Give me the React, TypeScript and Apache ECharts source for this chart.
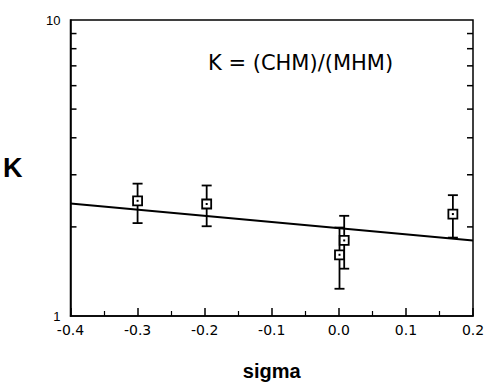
import React, { useEffect, useRef } from "react";
import * as echarts from "echarts";

// sigma values of the measured points
const sigmaValues = [-0.3, -0.197, 0.001, 0.008, 0.17];
// K values (centre of each marker)
const kValues = [2.45, 2.39, 1.61, 1.8, 2.21];
// error bar lower / upper ends
const kLow = [2.06, 2.01, 1.236, 1.445, 1.84];
const kHigh = [2.8, 2.76, 1.99, 2.18, 2.56];
// fitted line end points
const fitSigma = [-0.4, 0.2];
const fitK = [2.4, 1.8];
// minor log ticks on the K axis
const minorLogTicks = [2, 3, 4, 5, 6, 7, 8, 9];

const X_MIN = -0.4;
const X_MAX = 0.2;

export default function App() {
  const ref = useRef<HTMLDivElement>(null);
  useEffect(() => {
    if (!ref.current) return;
    const chart = echarts.init(ref.current, null, { renderer: "svg" });
    const points = sigmaValues.map((s, i) => [s, kValues[i]]);
    const bars = sigmaValues.map((s, i) => [s, kLow[i], kHigh[i]]);
    const fit = fitSigma.map((s, i) => [s, fitK[i]]);
    const ticks = minorLogTicks.map((v) => [X_MIN, v]);
    chart.setOption({
      animation: false,
      backgroundColor: "#fff",
      grid: {
        left: 70,
        right: 16,
        top: 20,
        bottom: 66,
        show: true,
        borderColor: "#000",
        borderWidth: 1.5,
        backgroundColor: "transparent",
      },
      xAxis: {
        type: "value",
        min: X_MIN,
        max: X_MAX,
        interval: 0.1,
        name: "sigma",
        nameLocation: "middle",
        nameGap: 45,
        nameTextStyle: {
          fontFamily: "Liberation Sans",
          fontWeight: "bold",
          fontSize: 20,
          color: "#000",
        },
        axisLine: { show: true, onZero: false, lineStyle: { color: "#000", width: 1.5 } },
        axisTick: { show: true, inside: true, length: 8, lineStyle: { color: "#000", width: 1.5 } },
        minorTick: { show: true, splitNumber: 2, length: 5, lineStyle: { color: "#000", width: 1.2 } },
        splitLine: { show: false },
        axisLabel: {
          formatter: (v: number) => v.toFixed(1),
          fontFamily: "DejaVu Sans",
          fontSize: 14,
          color: "#000",
          margin: 7,
        },
      },
      yAxis: {
        type: "log",
        logBase: 10,
        min: 1,
        max: 10,
        name: "K",
        nameLocation: "middle",
        nameRotate: 0,
        nameGap: 48,
        nameTextStyle: {
          fontFamily: "Liberation Sans",
          fontWeight: "bold",
          fontSize: 27,
          color: "#000",
        },
        axisLine: { show: true, onZero: false, lineStyle: { color: "#000", width: 1.5 } },
        axisTick: { show: false },
        splitLine: { show: false },
        axisLabel: {
          fontFamily: "Liberation Sans",
          fontSize: 13,
          color: "#000",
          margin: 10,
        },
      },
      graphic: [
        {
          type: "text",
          left: 208,
          top: 52,
          style: {
            text: "K = (CHM)/(MHM)",
            fontFamily: "DejaVu Sans",
            fontSize: 21,
            fill: "#000",
          },
        },
      ],
      series: [
        {
          type: "custom",
          name: "minorTicks",
          data: ticks,
          encode: { x: 0, y: 1 },
          clip: false,
          silent: true,
          renderItem: (params: any, api: any) => {
            const v = api.value(1);
            const l = api.coord([X_MIN, v]);
            const r = api.coord([X_MAX, v]);
            const st = { stroke: "#000", lineWidth: 1.5 };
            return {
              type: "group",
              children: [
                { type: "line", shape: { x1: l[0], y1: l[1], x2: l[0] + 6, y2: l[1] }, style: st },
                { type: "line", shape: { x1: r[0] - 6, y1: r[1], x2: r[0], y2: r[1] }, style: st },
              ],
            };
          },
        },
        {
          type: "line",
          name: "fit",
          data: fit,
          symbol: "none",
          lineStyle: { color: "#000", width: 2 },
          z: 3,
        },
        {
          type: "custom",
          name: "errorBars",
          data: bars,
          encode: { x: 0, y: [1, 2] },
          z: 4,
          renderItem: (params: any, api: any) => {
            const x = api.value(0);
            const lo = api.coord([x, api.value(1)]);
            const hi = api.coord([x, api.value(2)]);
            const st = { stroke: "#000", lineWidth: 1.8 };
            const hw = 5;
            return {
              type: "group",
              children: [
                { type: "line", shape: { x1: lo[0], y1: lo[1], x2: hi[0], y2: hi[1] }, style: st },
                { type: "line", shape: { x1: hi[0] - hw, y1: hi[1], x2: hi[0] + hw, y2: hi[1] }, style: st },
                { type: "line", shape: { x1: lo[0] - hw, y1: lo[1], x2: lo[0] + hw, y2: lo[1] }, style: st },
              ],
            };
          },
        },
        {
          type: "scatter",
          name: "K",
          data: points,
          symbol: "rect",
          symbolSize: 9,
          itemStyle: { color: "#fff", borderColor: "#000", borderWidth: 1.8, opacity: 1 },
          z: 5,
        },
        {
          type: "scatter",
          name: "centres",
          data: points,
          symbol: "rect",
          symbolSize: 2,
          itemStyle: { color: "#000", opacity: 1 },
          z: 6,
        },
      ],
    });
    return () => chart.dispose();
  }, []);
  return (
    <div
      ref={ref}
      style={{ position: "fixed", left: 0, top: 0, width: 489, height: 386 }}
    />
  );
}
